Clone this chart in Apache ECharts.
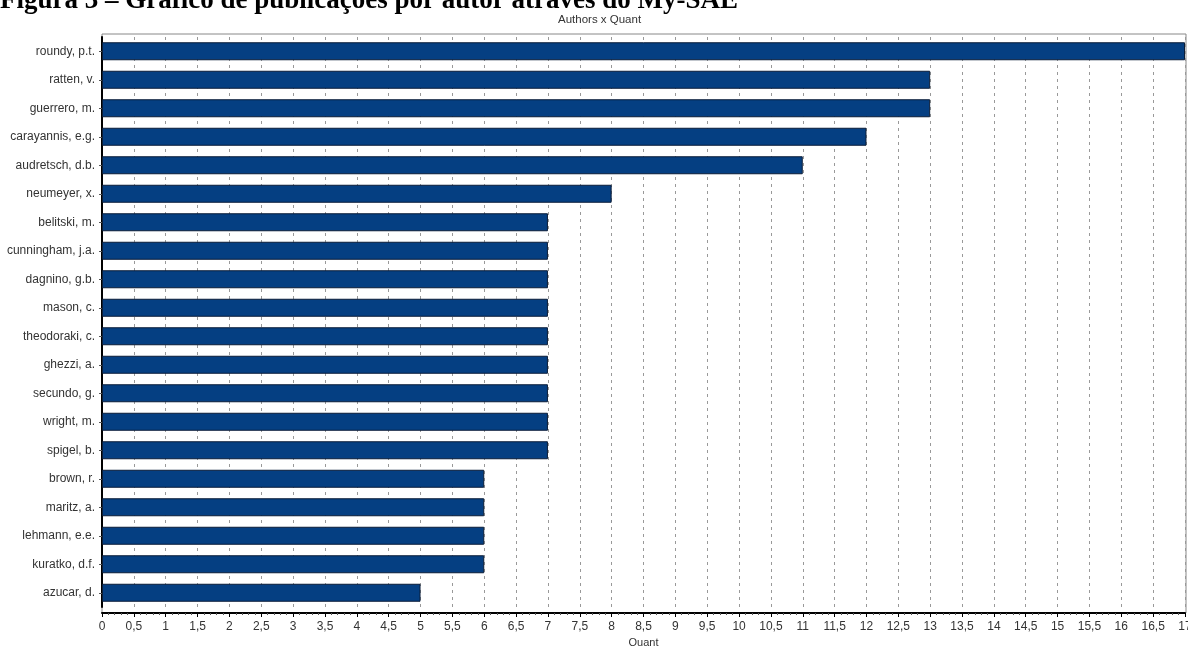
<!DOCTYPE html>
<html>
<head>
<meta charset="utf-8">
<script src="https://cdn.jsdelivr.net/npm/echarts@6/dist/echarts.min.js"></script>
<style>
  html, body { margin: 0; padding: 0; background: #fff; }
  #chart { width: 1188px; height: 646px; }
</style>
</head>
<body>
<div id="chart"></div>
<script>
const authors = [
  'roundy, p.t.', 'ratten, v.', 'guerrero, m.', 'carayannis, e.g.', 'audretsch, d.b.',
  'neumeyer, x.', 'belitski, m.', 'cunningham, j.a.', 'dagnino, g.b.', 'mason, c.',
  'theodoraki, c.', 'ghezzi, a.', 'secundo, g.', 'wright, m.', 'spigel, b.',
  'brown, r.', 'maritz, a.', 'lehmann, e.e.', 'kuratko, d.f.', 'azucar, d.'
]
const quant = [17, 13, 13, 12, 11, 8, 7, 7, 7, 7, 7, 7, 7, 7, 7, 6, 6, 6, 6, 5]
const xTicks = { min: 0, max: 17, step: 0.5 }

const chart = echarts.init(document.getElementById('chart'))
const font = 'Liberation Sans, Arial, sans-serif'
const option = {
  animation: false,
  backgroundColor: '#fff',
  title: [
    {
      text: 'Figura 3 – Gráfico de publicações por autor através do My-SAE',
      left: 0,
      top: -12,
      padding: 0,
      textStyle: { fontFamily: 'Liberation Serif, Times New Roman, serif', fontWeight: 'bold', fontSize: 27, color: '#000' },
    },
    {
      text: 'Authors x Quant',
      left: 558,
      top: 14,
      padding: 0,
      textStyle: { fontFamily: font, fontWeight: 'normal', fontSize: 11.5, color: '#333' },
    },
  ],
  graphic: [
    {
      type: 'rect',
      shape: { x: 102, y: 34, width: 1084, height: 579 },
      style: { fill: 'none', stroke: '#888', lineWidth: 1 },
      silent: true,
      z: 0,
    },
  ],
  grid: { left: 102, right: 3, top: 37, height: 570, containLabel: false, outerBoundsMode: 'none' },
  xAxis: {
    type: 'value',
    min: xTicks.min,
    max: xTicks.max,
    interval: xTicks.step,
    offset: 6,
    name: 'Quant',
    nameLocation: 'middle',
    nameGap: 20,
    nameTextStyle: { fontFamily: font, fontSize: 11, color: '#333' },
    axisLine: { show: true, lineStyle: { color: '#000', width: 2 } },
    axisTick: { show: true, length: 4, lineStyle: { color: '#000' } },
    minorTick: { show: true, splitNumber: 5, length: 2, lineStyle: { color: '#555' } },
    axisLabel: {
      fontFamily: font, fontSize: 12, color: '#333', margin: 8,
      showMaxLabel: true,
      hideOverlap: false,
      formatter: v => String(v).replace('.', ','),
    },
    splitLine: { show: true, lineStyle: { color: '#999', type: [3, 4], width: 1 } },
  },
  yAxis: {
    type: 'category',
    inverse: true,
    data: authors,
    axisLine: { show: true, lineStyle: { color: '#000', width: 2 } },
    axisTick: { show: true, alignWithLabel: true, length: 3, lineStyle: { color: '#555' } },
    axisLabel: { fontFamily: font, fontSize: 12, color: '#333', margin: 7 },
    splitLine: { show: false },
  },
  series: [
    {
      type: 'bar',
      data: quant,
      barWidth: 18,
      itemStyle: { color: '#053f82', borderColor: '#0b1d38', borderWidth: 1 },
      z: 3,
    },
  ],
}
chart.setOption(option)
</script>
</body>
</html>
